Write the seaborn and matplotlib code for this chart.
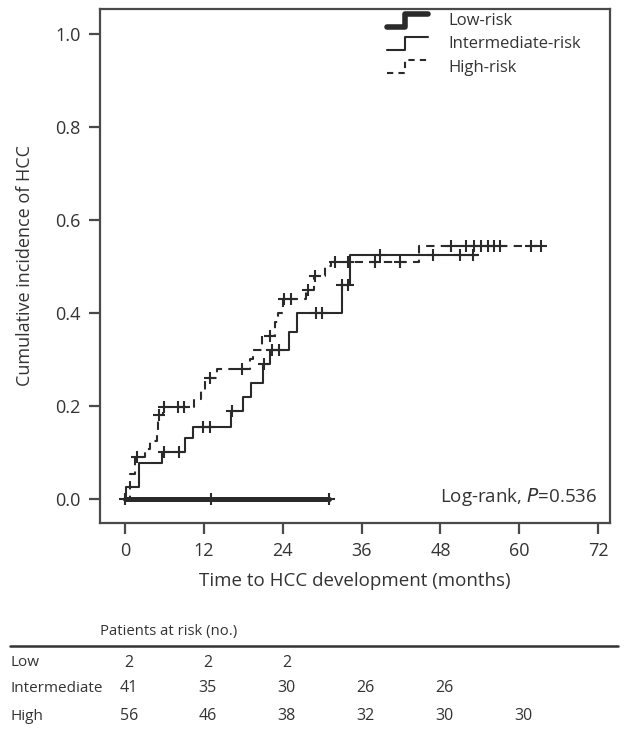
import numpy as np
import pandas as pd
import matplotlib
matplotlib.use("Agg")
import matplotlib.pyplot as plt
import matplotlib.transforms as mtransforms
from matplotlib.legend_handler import HandlerBase
from matplotlib.lines import Line2D
import seaborn as sns

# step curves: event times (months) and cumulative incidence after each step
low_t = [0.0]
low_y = [0.0]
low_end = 31.1
low_cens = [0.0, 13.1, 31.1]

int_t = [0.0, 0.2, 2.2, 5.6, 9.1, 10.3, 16.2, 18.0, 19.2, 21.0, 22.1, 25.0, 26.2, 33.0, 34.2]
int_y = [0.0, 0.025, 0.077, 0.10, 0.13, 0.155, 0.19, 0.22, 0.25, 0.29, 0.32, 0.36, 0.40, 0.46, 0.525]
int_end = 53.7
int_cens = [5.9, 8.2, 11.9, 12.9, 16.3, 21.1, 22.3, 23.4, 29.0, 30.0, 33.0, 34.0, 38.8, 46.9, 51.0, 53.0]

high_t = [0.0, 0.7, 1.6, 3.0, 3.8, 4.8, 5.1, 5.8, 10.5, 11.6, 12.2, 14.0, 19.0, 19.5,
          20.8, 22.8, 23.3, 24.0, 27.6, 28.8, 30.4, 31.4, 44.8]
high_y = [0.0, 0.054, 0.09, 0.107, 0.125, 0.143, 0.18, 0.197, 0.215, 0.235, 0.26, 0.28,
          0.30, 0.32, 0.35, 0.38, 0.40, 0.43, 0.45, 0.48, 0.50, 0.51, 0.545]
high_end = 63.3
high_cens = [1.9, 5.2, 5.9, 8.1, 9.0, 12.9, 17.8, 22.0, 24.2, 25.3, 27.8, 28.9, 32.0,
             34.0, 38.0, 41.8, 49.6, 51.9, 53.1, 54.2, 55.3, 56.2, 57.1, 61.8, 63.3]

legend_labels = ["Low-risk", "Intermediate-risk", "High-risk"]

# patients at risk table (columns at 0, 12, 24, ... months)
risk_rows = ["Low", "Intermediate", "High"]
risk_times = [0, 12, 24, 36, 48, 60]
risk_low = ["2", "2", "2", "", "", ""]
risk_int = ["41", "35", "30", "26", "26", ""]
risk_high = ["56", "46", "38", "32", "30", "30"]

xticks = [0, 12, 24, 36, 48, 60, 72]
yticks = [0.0, 0.2, 0.4, 0.6, 0.8, 1.0]

sns.set_style("white")
plt.rcParams["font.family"] = ["Open Sans", "DejaVu Sans"]

INK = "#2a2a2a"
FRAME = "#4a4a4a"
TXT = "#333333"


def step_frame(t, y, end):
    return pd.DataFrame({"time": list(t) + [end], "inc": list(y) + [y[-1]]})


def censor_frame(t, y, cens):
    t = np.asarray(t)
    idx = np.searchsorted(t, cens, side="right") - 1
    return pd.DataFrame({"time": cens, "inc": np.asarray(y)[idx]})


fig = plt.figure(figsize=(6.3, 7.29), dpi=100)
ax = fig.add_axes([100 / 630, 1 - 523 / 729, 510 / 630, 514 / 729])

curves = [
    (low_t, low_y, low_end, low_cens, dict(lw=3.6, ls="-")),
    (int_t, int_y, int_end, int_cens, dict(lw=1.5, ls="-")),
    (high_t, high_y, high_end, high_cens, dict(lw=1.5, ls=(0, (4, 3)))),
]
for t, y, end, cens, st in curves:
    sns.lineplot(data=step_frame(t, y, end), x="time", y="inc", ax=ax,
                 estimator=None, sort=False, drawstyle="steps-post",
                 color=INK, linewidth=st["lw"], linestyle=st["ls"])
    sns.scatterplot(data=censor_frame(t, y, cens), x="time", y="inc", ax=ax,
                    marker="+", s=65, linewidth=1.5, color=INK, zorder=3)

ax.set_xlim(-3.8, 73.8)
ax.set_ylim(-0.052, 1.054)
ax.set_xticks(xticks)
ax.set_yticks(yticks)
ax.set_yticklabels([f"{v:.1f}" for v in yticks])
ax.tick_params(direction="out", length=8, width=1.6, color=FRAME,
               labelsize=13, labelcolor=TXT, pad=6, bottom=True, left=True)
for s in ax.spines.values():
    s.set_color(FRAME)
    s.set_linewidth(1.6)
ax.set_xlabel("Time to HCC development (months)", fontsize=13.5, color=TXT, labelpad=8)
ax.set_ylabel("Cumulative incidence of HCC", fontsize=13, color=TXT, labelpad=15)

ax.text(0.975, 0.05, "Log-rank, $\\it{P}$=0.536", transform=ax.transAxes,
        ha="right", va="center", fontsize=13.5, color=TXT)


class StepHandler(HandlerBase):
    def __init__(self, lw, ls):
        super().__init__()
        self.lw, self.ls = lw, ls

    def create_artists(self, legend, orig_handle, xdescent, ydescent, width, height,
                       fontsize, trans):
        xs = [0, width * 0.45, width * 0.45, width]
        ys = [-1, -1, height - 1, height - 1]
        ln = Line2D(xs, ys, color=INK, lw=self.lw, linestyle=self.ls, transform=trans)
        return [ln]


handles = [Line2D([], []), Line2D([], []), Line2D([], [])]
ax.legend(handles, legend_labels, loc="upper left",
          bbox_to_anchor=(280 / 510, 1.005), borderaxespad=0,
          frameon=False, fontsize=12, handlelength=2.5, handleheight=0.8,
          handletextpad=1.2, labelspacing=0.42, labelcolor=TXT,
          handler_map={handles[0]: StepHandler(4.0, "-"),
                       handles[1]: StepHandler(1.5, "-"),
                       handles[2]: StepHandler(1.5, (0, (3, 2.5)))})

# patients at risk table, columns aligned with the time axis
fig.text(100 / 630, 1 - 632 / 729, "Patients at risk (no.)", fontsize=10.7,
         color=TXT, va="center")
fig.add_artist(Line2D([10 / 630, 618 / 630], [1 - 646 / 729, 1 - 646 / 729],
                      transform=fig.transFigure, color=TXT, lw=1.8))
col_tr = mtransforms.blended_transform_factory(ax.transData, fig.transFigure)
row_y = [663, 688, 716]
for name, vals, yy in zip(risk_rows, [risk_low, risk_int, risk_high], row_y):
    fig.text(10 / 630, 1 - yy / 729, name, fontsize=11, color=TXT, va="center")
    for v, tt in zip(vals, risk_times):
        ax.text(tt + 0.6, 1 - yy / 729, v, transform=col_tr, fontsize=11.5,
                color=TXT, va="center", ha="center", clip_on=False)

fig.savefig("out.png", dpi=100)
